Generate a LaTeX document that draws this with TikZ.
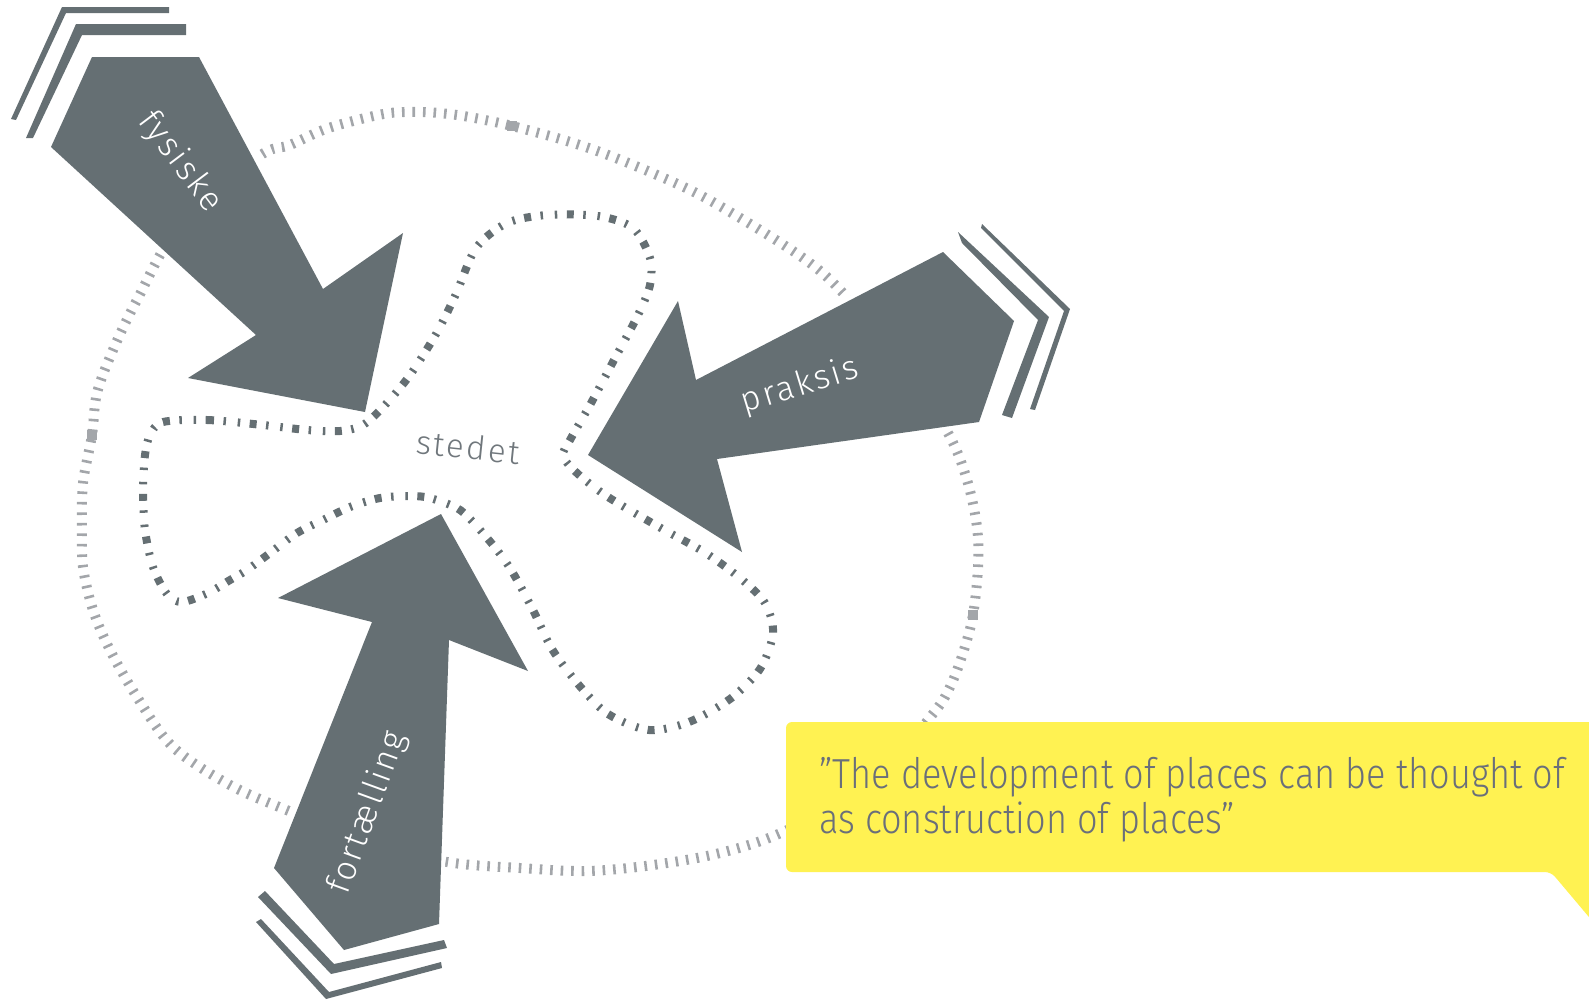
\documentclass[tikz,border=0pt]{standalone}
\usepackage{fontspec}
\usepackage{tikz}
\IfFontExistsTF{Fira Sans Light}{%
  \setmainfont{Fira Sans Light}
  \newfontfamily\labelfont[LetterSpace=7]{Fira Sans Light}
  \newfontfamily\quotefont[FakeStretch=0.86]{Fira Sans Light}
}{%
  \setmainfont{Fira Sans}
  \newfontfamily\labelfont[LetterSpace=7]{Fira Sans}
  \newfontfamily\quotefont[FakeStretch=0.86]{Fira Sans}
}
\definecolor{arrowgrey}{RGB}{101,111,115}
\definecolor{ringgrey}{RGB}{163,166,170}
\definecolor{placegrey}{RGB}{112,119,124}
\definecolor{quoteyellow}{RGB}{255,242,82}
\definecolor{quotegrey}{RGB}{106,111,122}
\tikzset{
    arrowbody/.style={
        fill=arrowgrey,
        preaction={draw=white, line width=8pt, line join=round}
    },
    stripe/.style={
        fill=arrowgrey
    },
    ringline/.style={
        draw=ringgrey,
        line width=10pt,
        dash pattern=on 2.6pt off 7.9pt
    },
    ringmark/.style={
        fill=ringgrey
    },
    blobline/.style={
        draw=arrowgrey,
        line width=8pt,
        dash pattern=on 7pt off 9.5pt on 2.5pt off 11.8pt on 2.5pt off 9.5pt
    },
    armlabel/.style={
        text=white,
        inner sep=0pt,
        font=\labelfont\fontsize{34}{40}\selectfont
    },
    placelabel/.style={
        text=placegrey,
        inner sep=0pt,
        font=\labelfont\fontsize{33}{40}\selectfont
    },
    quotebox/.style={
        fill=quoteyellow,
        rounded corners=6pt
    },
    quotetext/.style={
        text=quotegrey,
        inner sep=0pt,
        anchor=base west,
        font=\quotefont\fontsize{42}{45}\selectfont
    }
}

\begin{document}
\begin{tikzpicture}[x=1pt, y=-1pt]
    \path[use as bounding box, clip] (0,0) rectangle (1589,1007);

    % outer ring of ticks
    \draw[ringline] plot[smooth cycle, tension=0.55] coordinates {
        (390,113) (423,112) (457,115) (490,121) (512,126) (557,138)
        (600,152) (650,172) (700,195) (760,230) (810,263) (843,293)
        (900,358) (948,433) (967,480) (977,527) (978,567) (973,615)
        (963,653) (950,687) (932,715) (870,785) (783,832) (720,853)
        (653,865) (587,871) (520,868) (447,862) (370,843) (289,811)
        (230,785) (173,747) (137,697) (110,650) (93,610) (83,567)
        (82,527) (83,483) (92,435) (97,393) (113,350) (137,300)
        (180,225) (258,157) (290,145) (323,130) (357,120)};
    \fill[ringmark] (507,121) rectangle (517,131);
    \fill[ringmark] (87,430) rectangle (97,440);
    \fill[ringmark] (968,610) rectangle (978,620);

    % the place
    \draw[blobline] plot[smooth cycle, tension=0.5] coordinates {
        (163,422) (207,420) (263,425) (307,430) (340,431) (363,425)
        (385,405) (410,375) (436,334) (456,294) (476,248) (507,223)
        (547,215) (598,216) (633,228) (650,258) (650,285) (638,315)
        (614,360) (590,405) (570,440) (563,456) (578,474) (608,497)
        (659,527) (704,552) (740,578) (765,603) (773,633) (760,669)
        (730,699) (689,722) (649,730) (608,714) (578,684) (552,649)
        (533,610) (513,573) (497,550) (473,522) (457,508) (430,498)
        (410,496) (380,498) (350,507) (323,520) (297,533) (270,553)
        (247,570) (230,580) (208,593) (182,602) (167,594) (153,567)
        (145,530) (143,490) (145,455) (150,435)};
    \node[placelabel, rotate=-6] (stedet) at (468,447) {stedet};

    % fysiske
    \path[arrowbody] (92,57) -- (199,57) -- (323,289) -- (403,233) -- (365,412)
        -- (188,378) -- (256,335) -- (51,147) -- cycle;
    \fill[stripe] (76,24) -- (186,24) -- (186,35) -- (82,35) -- (33,138) -- (26,138) -- cycle;
    \fill[stripe] (62,7) -- (169,7) -- (169,13) -- (66,13) -- (16,120) -- (11,119) -- cycle;
    \node[armlabel, rotate=-53] (fysiske) at (180,162) {fysiske};

    % praksis
    \path[arrowbody] (943,252) -- (1014,321) -- (979,422) -- (717,459) -- (742,552)
        -- (588,455) -- (678,301) -- (696,380) -- cycle;
    \fill[stripe] (958,232) -- (1049,317) -- (1012,418) -- (1002,415) -- (1038,320) -- (962,243) -- cycle;
    \fill[stripe] (982,224) -- (1070,309) -- (1035,410) -- (1030,409) -- (1064,311) -- (981,228) -- cycle;
    \node[armlabel, rotate=17] (praksis) at (800,386) {praksis};

    % fortaelling
    \path[arrowbody] (274,868) -- (344,950) -- (439,924) -- (449,640) -- (528,671)
        -- (441,514) -- (278,598) -- (372,622) -- cycle;
    \fill[stripe] (258,897) -- (265,891) -- (334,964) -- (444,940) -- (447,948) -- (331,974) -- cycle;
    \fill[stripe] (256,922) -- (261,919) -- (329,992) -- (441,962) -- (442,968) -- (326,999) -- cycle;
    \node[armlabel, rotate=70] (fortaelling) at (368,813) {fortælling};

    % quote
    \path[quotebox] (786,722) -- (1610,722) -- (1610,942) -- (1551,872) -- (786,872) -- cycle;
    \node[quotetext] (quoteone) at (819,788) {”The development of places can be thought of};
    \node[quotetext] (quotetwo) at ([yshift=-45pt]quoteone.base west) {as construction of places”};
\end{tikzpicture}
\end{document}
